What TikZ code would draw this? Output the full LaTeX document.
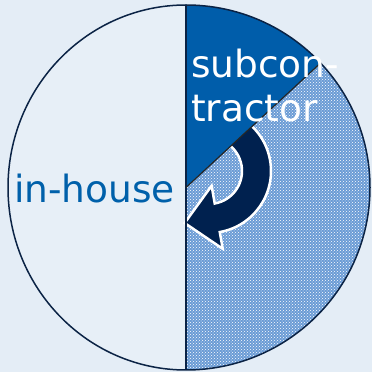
\documentclass[tikz,border=0pt]{standalone}
\usepackage{fontspec}
\setmainfont{DejaVu Sans}
\usetikzlibrary{patterns,calc}
\definecolor{bg}{HTML}{E4EDF6}
\definecolor{halffill}{HTML}{E7EFF7}
\definecolor{wedgeblue}{HTML}{005DAA}
\definecolor{navyarrow}{HTML}{00214F}
\definecolor{outline}{HTML}{0B2345}
\definecolor{hatchbase}{HTML}{6A9BD5}
\definecolor{txtblue}{HTML}{0060AA}
\tikzset{
  pieline/.style={draw=outline,line width=1.5pt},
  lbl/.style={inner sep=0pt,anchor=base west,font=\fontsize{37.5}{44}\selectfont}
}
\begin{document}
\begin{tikzpicture}[x=1pt,y=1pt]
\fill[bg] (0,0) rectangle (372,372);
\useasboundingbox (0,0) rectangle (372,372);
\coordinate (c) at (186,184.5);
% left half
\fill[halffill] (c) -- ++(0,182.5) arc[start angle=90,end angle=270,x radius=178,y radius=182.5] -- cycle;
% hatched part
\fill[hatchbase] (c) -- ++(0,-182.5) arc[start angle=-90,end angle=43,x radius=184,y radius=182.5] -- cycle;
\fill[pattern=crosshatch dots,pattern color=white] (c) -- ++(0,-182.5) arc[start angle=-90,end angle=43,x radius=184,y radius=182.5] -- cycle;
% curved arrow
\coordinate (ac) at (209,201);
\coordinate (tip) at ($(ac)+(-80:47)+(-170:33)$);
\draw[white,line width=2.5pt,fill=navyarrow,line join=miter]
  ($(ac)+(100:62)$) arc[start angle=100,end angle=-80,radius=62]
  -- ($(ac)+(-80:79)$) -- (tip) -- ($(ac)+(-80:15)$) -- ($(ac)+(-80:33)$)
  arc[start angle=-80,end angle=100,radius=33] -- cycle;
% dark wedge
\fill[wedgeblue] (c) -- ++(0,182.5) arc[start angle=90,end angle=43,x radius=184,y radius=182.5] -- cycle;
% outlines
\draw[pieline] ($(c)+(0,182.5)$) arc[start angle=90,end angle=270,x radius=178,y radius=182.5];
\draw[pieline] ($(c)+(0,-182.5)$) arc[start angle=-90,end angle=90,x radius=184,y radius=182.5];
\draw[pieline] ($(c)+(0,182.5)$) -- ($(c)+(0,-182.5)$);
\draw[draw=black!85,line width=1.2pt] (c) -- ($(c)+(43:184 and 182.5)$);
% labels
\node[lbl,text=txtblue] (inh) at (14,169) {in-house};
\node[lbl,text=white] (sub1) at (191,294) {subcon-};
\node[lbl,text=white] (sub2) at (191,250) {tractor};
\end{tikzpicture}
\end{document}
